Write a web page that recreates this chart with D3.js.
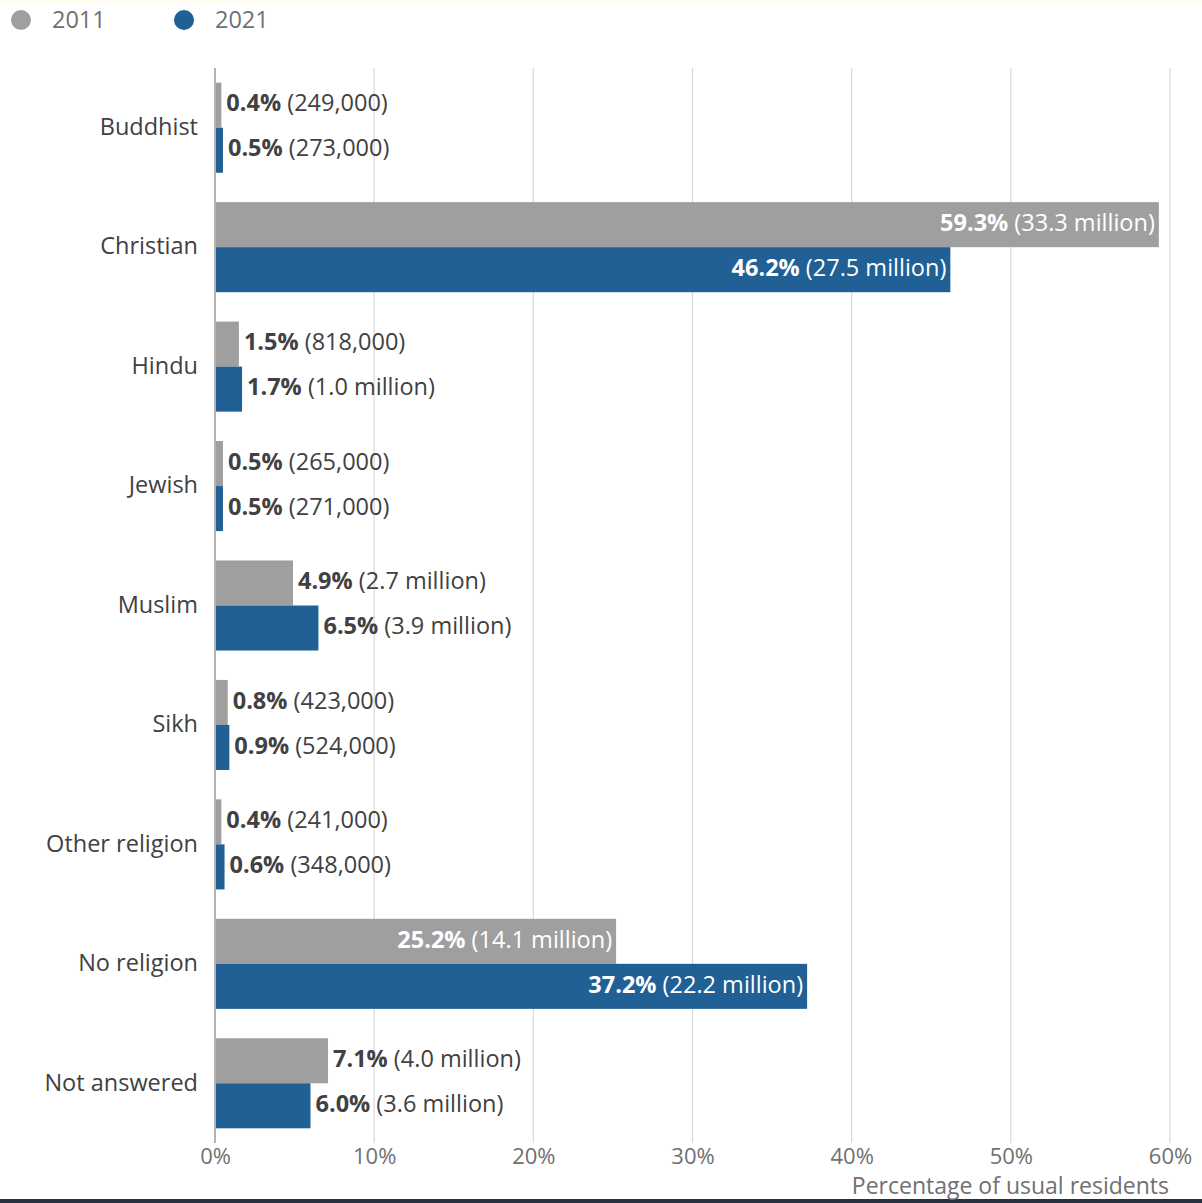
<!DOCTYPE html>
<html lang="en">
<head>
<meta charset="utf-8">
<title>Religion, England and Wales, 2011 and 2021</title>
<script src="https://cdn.jsdelivr.net/npm/d3@7"></script>
<style>
  html, body { margin: 0; padding: 0; background: #fff; }
  body { width: 1202px; height: 1203px; overflow: hidden; }
  svg { display: block; font-family: "Open Sans", "Noto Sans", sans-serif; }
</style>
</head>
<body>
<script>
// Categories and series
var religions = ["Buddhist", "Christian", "Hindu", "Jewish", "Muslim", "Sikh", "Other religion", "No religion", "Not answered"];
var years = ["2011", "2021"];

// percentage of usual residents
var pct2011 = [0.4, 59.3, 1.5, 0.5, 4.9, 0.8, 0.4, 25.2, 7.1];
var pct2021 = [0.5, 46.2, 1.7, 0.5, 6.5, 0.9, 0.6, 37.2, 6.0];

// head counts shown in brackets
var count2011 = ["249,000", "33.3 million", "818,000", "265,000", "2.7 million", "423,000", "241,000", "14.1 million", "4.0 million"];
var count2021 = ["273,000", "27.5 million", "1.0 million", "271,000", "3.9 million", "524,000", "348,000", "22.2 million", "3.6 million"];

var xTicks = [0, 10, 20, 30, 40, 50, 60];

var w = 1202, h = 1203;
var colors = { "2011": "#a09fa0", "2021": "#206095" };

// build rows from the arrays
var rows = [];
religions.forEach(function(r, i) {
  rows.push({ religion: r, year: "2011", value: pct2011[i], count: count2011[i] });
  rows.push({ religion: r, year: "2021", value: pct2021[i], count: count2021[i] });
});

var svg = d3.select("body").append("svg")
  .attr("width", w)
  .attr("height", h);

// faint top band and dark bottom strip (from the screenshot frame)
svg.append("rect").attr("x", 0).attr("y", 0).attr("width", w).attr("height", 3).attr("fill", "#fffaf0");
svg.append("rect").attr("x", 0).attr("y", 1199).attr("width", w).attr("height", 4).attr("fill", "#28323e");

var x = d3.scaleLinear().domain([0, 60]).range([215, 1170]);

var y = d3.scaleBand()
  .domain(religions)
  .range([68, 1143])
  .paddingInner(0.246)
  .paddingOuter(0.123);

var ySub = d3.scaleBand()
  .domain(years)
  .range([0, y.bandwidth()]);

// gridlines
svg.append("g").selectAll("line")
  .data(xTicks.slice(1))
  .enter().append("line")
  .attr("x1", function(d) { return x(d); })
  .attr("x2", function(d) { return x(d); })
  .attr("y1", 68)
  .attr("y2", 1143)
  .style("stroke", "#d9d9d9")
  .style("stroke-width", 1.2);

// bars
var groups = svg.append("g").selectAll("g")
  .data(rows)
  .enter().append("g")
  .attr("transform", function(d) { return "translate(0," + (y(d.religion) + ySub(d.year)) + ")"; });

groups.append("rect")
  .attr("x", x(0))
  .attr("y", 0)
  .attr("width", function(d) { return x(d.value) - x(0); })
  .attr("height", ySub.bandwidth())
  .attr("fill", function(d) { return colors[d.year]; });

// value labels
var inside = function(d) { return d.value > 20; };
var labels = groups.append("text")
  .attr("x", function(d) { return inside(d) ? x(d.value) - 4 : x(d.value) + 5; })
  .attr("y", ySub.bandwidth() / 2 - 2)
  .attr("dy", "0.35em")
  .attr("text-anchor", function(d) { return inside(d) ? "end" : "start"; })
  .style("font-size", "23.5px")
  .style("fill", function(d) { return inside(d) ? "#ffffff" : "#414042"; });

labels.append("tspan")
  .style("font-weight", "bold")
  .text(function(d) { return d3.format(".1f")(d.value) + "%"; });
labels.append("tspan")
  .text(function(d) { return " (" + d.count + ")"; });

// category axis line and labels
svg.append("line")
  .attr("x1", x(0)).attr("x2", x(0))
  .attr("y1", 68).attr("y2", 1143)
  .style("stroke", "#b3b3b3")
  .style("stroke-width", 2);

svg.append("g").selectAll("text")
  .data(religions)
  .enter().append("text")
  .attr("x", 198)
  .attr("y", function(d) { return y(d) + y.bandwidth() / 2 - 1; })
  .attr("dy", "0.35em")
  .attr("text-anchor", "end")
  .style("font-size", "23.5px")
  .style("fill", "#414042")
  .text(function(d) { return d; });

// x axis
var xAxis = d3.axisBottom(x)
  .tickValues(xTicks)
  .tickFormat(function(d) { return d + "%"; })
  .tickSize(0)
  .tickPadding(0);

var gx = svg.append("g")
  .attr("transform", "translate(0,1156)")
  .call(xAxis);
gx.select(".domain").remove();
gx.selectAll("text")
  .attr("dy", "0.35em")
  .style("font-family", "\"Open Sans\", sans-serif")
  .style("font-size", "22px")
  .style("fill", "#707071");

svg.append("text")
  .attr("x", 1169)
  .attr("y", 1186)
  .attr("dy", "0.35em")
  .attr("text-anchor", "end")
  .style("font-size", "23px")
  .style("fill", "#707071")
  .text("Percentage of usual residents");

// legend
var legend = svg.append("g").selectAll("g")
  .data(years)
  .enter().append("g")
  .attr("transform", function(d, i) { return "translate(" + (21 + i * 163) + ",20)"; });

legend.append("circle")
  .attr("r", 10)
  .attr("fill", function(d) { return colors[d]; });

legend.append("text")
  .attr("x", 31)
  .attr("dy", "0.35em")
  .style("font-size", "23.5px")
  .style("fill", "#707071")
  .text(function(d) { return d; });
</script>
</body>
</html>
